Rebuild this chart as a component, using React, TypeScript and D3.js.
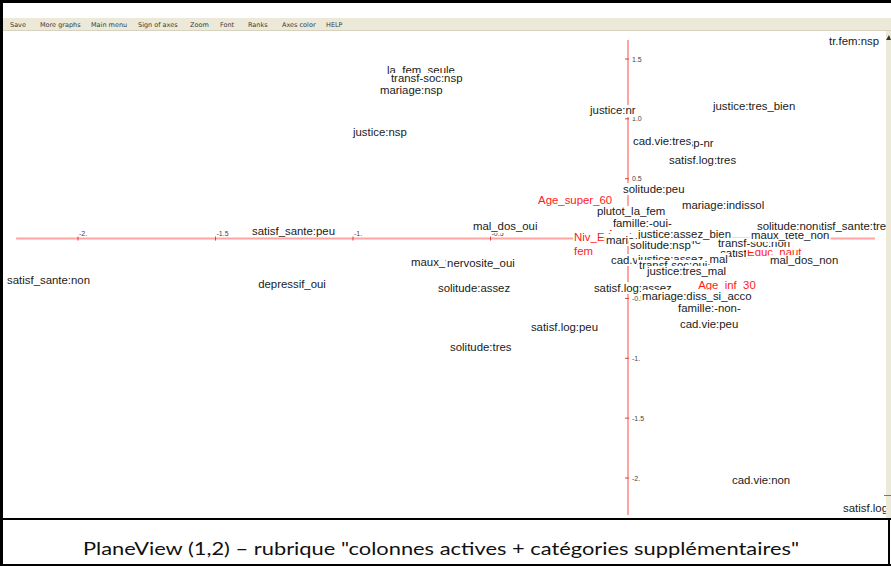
import React, { useEffect, useRef } from 'react';
import * as d3 from 'd3';

// categories, in drawing order (later labels hide earlier ones)
const labels = [
  'tr.fem:nsp', 'la_fem_seule', 'transf-soc:nsp', 'mariage:nsp', 'justice:nsp', 'justice:nr',
  'justice:tres_bien', 'cad.vie:nsp-nr', 'cad.vie:tres', 'satisf.log:tres', 'solitude:peu',
  'Age_super_60', 'mariage:indissol', 'plutot_la_fem', 'Age_40_60', 'famille:-oui-',
  'Niv_Educ_bas', 'mariage:dissoluble', 'justice:assez_bien', 'solitude:nsp', 'fem',
  'satisf_sante:oui', 'Educ_haut', 'transf-soc:non', 'cad.vie:assez', 'justice:assez_mal',
  'transf-soc:oui', 'justice:tres_mal', 'maux_tete_non', 'satisf_sante:tres', 'solitude:non',
  'mal_dos_non', 'satisf.log:assez', 'Age_inf_30', 'mariage:diss_si_acco', 'famille:-non-',
  'cad.vie:peu', 'cad.vie:non', 'satisf.log:non', 'satisf_sante:peu', 'satisf_sante:non',
  'depressif_oui', 'mal_dos_oui', 'maux_tete_oui', 'nervosite_oui', 'solitude:assez',
  'satisf.log:peu', 'solitude:tres',
];
const axis1 = [
  0.731, -0.876, -0.862, -0.902, -1.0, -0.138,
  0.309, 0.051, 0.018, 0.149, -0.018,
  -0.327, 0.196, -0.113, -0.076, -0.055,
  -0.196, -0.08, 0.036, 0.007, -0.196,
  0.335, 0.433, 0.327, -0.062, 0.036,
  0.04, 0.069, 0.447, 0.658, 0.469,
  0.516, -0.124, 0.255, 0.051, 0.182,
  0.189, 0.378, 0.782, -1.367, -2.258,
  -1.345, -0.564, -0.789, -0.658, -0.691,
  -0.353, -0.647,
];
const axis2 = [
  1.65, 1.4, 1.333, 1.233, 0.882, 1.066,
  1.107, 0.79, 0.807, 0.648, 0.414,
  0.322, 0.28, 0.222, 0.038, 0.13,
  0.013, -0.012, 0.03, -0.054, -0.104,
  -0.121, -0.12, -0.045, -0.179, -0.171,
  -0.229, -0.279, 0.022, 0.097, 0.097,
  -0.187, -0.413, -0.396, -0.48, -0.58,
  -0.714, -2.017, -2.251, 0.063, -0.354,
  -0.38, 0.097, -0.204, -0.212, -0.421,
  -0.739, -0.906,
];
// supplementary categories are drawn in red
const supplementary = ['Age_super_60', 'Age_40_60', 'Niv_Educ_bas', 'fem', 'Educ_haut', 'Age_inf_30'];

const xTicks = [-2, -1.5, -1, -0.5];
const xTickLabels = ['-2.', '-1.5', '-1.', '-0.5'];
const yTicks = [1.5, 1, 0.5, -0.5, -1, -1.5, -2];
const yTickLabels = ['1.5', '1.0', '0.5', '-0.5', '-1.', '-1.5', '-2.'];
const xExtent = [-2.225, 0.898];
const yExtent = [1.659, -2.309];

const menuItems = ['Save', 'More graphs', 'Main menu', 'Sign of axes', 'Zoom', 'Font', 'Ranks', 'Axes color', 'HELP'];
const menuX = [10, 40, 91, 138, 190, 220, 248, 282, 326];

const caption = 'PlaneView (1,2) – rubrique "colonnes actives + catégories supplémentaires"';

const W = 891;
const H = 566;

const App = () => {
  const svgRef = useRef(null);

  useEffect(() => {
    if (!svgRef.current) return;
    const svg = d3.select(svgRef.current);
    svg.selectAll('*').remove();

    const x = d3.scaleLinear().domain([-2, 0]).range([78, 628]);
    const y = d3.scaleLinear().domain([-2, 1.5]).range([478, 59]);

    svg.append('rect').attr('width', W).attr('height', H).attr('fill', '#fff');

    // toolbar
    svg.append('rect').attr('x', 3).attr('y', 18).attr('width', W - 3).attr('height', 12).attr('fill', '#ece9d8');
    svg.append('line').attr('x1', 3).attr('x2', W).attr('y1', 30.5).attr('y2', 30.5).attr('stroke', '#d6d2c2');
    svg.selectAll('text.menu')
      .data(menuItems)
      .enter()
      .append('text')
      .attr('class', 'menu')
      .attr('x', (d, i) => menuX[i])
      .attr('y', 26.5)
      .style('font-family', 'Tahoma, "DejaVu Sans", sans-serif')
      .style('font-size', '6.5px')
      .style('fill', '#3a3a3a')
      .text(d => d);

    const axisColor = '#ffa3a3';
    const plot = svg.append('g');

    // axes
    plot.append('line')
      .attr('x1', x(xExtent[0])).attr('x2', x(xExtent[1]))
      .attr('y1', y(0)).attr('y2', y(0))
      .attr('stroke', axisColor).attr('stroke-width', 2);
    plot.append('line')
      .attr('x1', x(0)).attr('x2', x(0))
      .attr('y1', y(yExtent[0])).attr('y2', y(yExtent[1]))
      .attr('stroke', axisColor).attr('stroke-width', 2);

    xTicks.forEach((t, i) => {
      plot.append('line')
        .attr('x1', x(t)).attr('x2', x(t))
        .attr('y1', y(0) - 2).attr('y2', y(0) + 2)
        .attr('stroke', '#e04040').attr('stroke-width', 1);
      plot.append('text')
        .attr('x', x(t) + 1).attr('y', y(0) - 3)
        .style('font-family', '"Liberation Sans", Arial, sans-serif')
        .style('font-size', '7px').style('fill', '#444')
        .text(xTickLabels[i]);
    });
    yTicks.forEach((t, i) => {
      plot.append('line')
        .attr('x1', x(0) - 3).attr('x2', x(0) + 1)
        .attr('y1', y(t)).attr('y2', y(t))
        .attr('stroke', '#e04040').attr('stroke-width', 1);
      plot.append('text')
        .attr('x', x(0) + 4).attr('y', y(t) + 2.5)
        .style('font-family', '"Liberation Sans", Arial, sans-serif')
        .style('font-size', '7px').style('fill', '#444')
        .text(yTickLabels[i]);
    });

    // labels with white boxes, drawn in order
    labels.forEach((name, i) => {
      const g = plot.append('g');
      const px = x(axis1[i]);
      const py = y(axis2[i]);
      const box = g.append('rect').attr('fill', '#fff');
      const txt = g.append('text')
        .attr('x', px)
        .attr('y', py + 3.5)
        .style('font-family', '"Liberation Sans", Arial, sans-serif')
        .style('font-size', '11.4px')
        .style('fill', supplementary.includes(name) ? '#ff1a1a' : '#1a1a1a')
        .text(name);
      const w = txt.node().getComputedTextLength();
      box.attr('x', px - 1).attr('y', py - 6).attr('width', w + 2).attr('height', 12);
    });

    // scrollbar strip on the right
    svg.append('rect').attr('x', 886).attr('y', 31).attr('width', 5).attr('height', 488).attr('fill', '#ece9d8');
    svg.append('path').attr('d', 'M886,40 L889,35 L891,40 Z').attr('fill', '#333');
    svg.append('line').attr('x1', 884).attr('x2', W).attr('y1', 495.5).attr('y2', 495.5).attr('stroke', '#777');

    // frame
    svg.append('rect').attr('x', 0).attr('y', 0).attr('width', W).attr('height', 3).attr('fill', '#000');
    svg.append('rect').attr('x', 0).attr('y', 0).attr('width', 3).attr('height', H).attr('fill', '#000');
    svg.append('rect').attr('x', 0).attr('y', 518).attr('width', W).attr('height', 2).attr('fill', '#000');
    svg.append('rect').attr('x', 0).attr('y', H - 2).attr('width', W).attr('height', 2).attr('fill', '#000');
    svg.append('rect').attr('x', 888).attr('y', 520).attr('width', 2).attr('height', 46).attr('fill', '#000');

    svg.append('text')
      .attr('x', 441).attr('y', 555)
      .attr('text-anchor', 'middle')
      .attr('textLength', 716)
      .attr('lengthAdjust', 'spacingAndGlyphs')
      .style('font-family', 'Lato, "Open Sans", sans-serif')
      .style('font-size', '17px')
      .style('font-weight', 400)
      .style('fill', '#111')
      .text(caption);
  }, []);

  return (
    <div style={{ position: 'absolute', left: 0, top: 0, width: W, height: H }}>
      <svg ref={svgRef} width={W} height={H} style={{ display: 'block' }} />
    </div>
  );
};

export default App;
